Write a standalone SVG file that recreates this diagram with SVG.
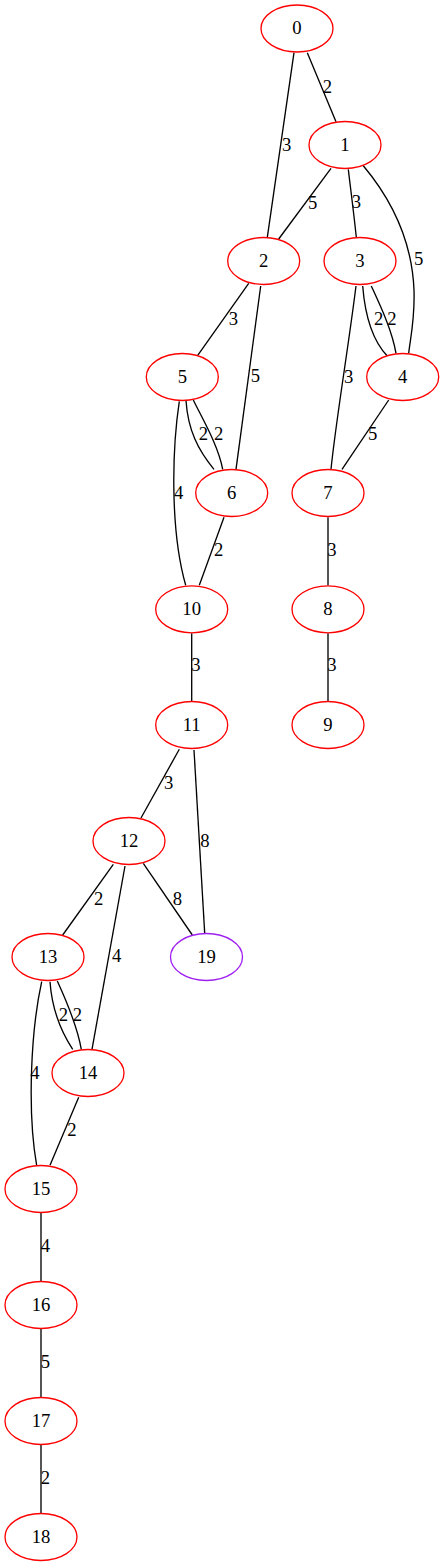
<svg xmlns="http://www.w3.org/2000/svg" width="444" height="1567" viewBox="0 0 444 1567">
<style>
.n ellipse{fill:none;stroke:#ff0000;stroke-width:1.33}
.n.p ellipse{stroke:#a020f0}
text{font-family:"Liberation Serif","Times New Roman",serif;font-size:18.67px;fill:#000;text-anchor:middle}
#edges path{fill:none;stroke:#000;stroke-width:1.33}
</style>
<rect width="444" height="1567" fill="#fff"/>
<g id="edges">
<path d="M307.3,52.7 L336,121.7"/><text x="327.3" y="93">2</text>
<path d="M294,52.7 L267.3,237.3"/><text x="286.7" y="150.5">3</text>
<path d="M331,168.3 L278.7,239"/><text x="312.7" y="208.5">5</text>
<path d="M348.3,169.3 C351,192 354,215 356.3,237.3"/><text x="356.3" y="208">3</text>
<path d="M363.3,165.7 C392,200 412,240 414,290 C415,320 410,340 408.7,353.3"/><text x="418.7" y="265">5</text>
<path d="M248.7,283.3 L197.7,355.3"/><text x="233.3" y="324.5">3</text>
<path d="M260.7,286 L236,469.3"/><text x="255.3" y="382">5</text>
<path d="M362.7,286 C365,315 372,340 387.3,356"/><text x="378.7" y="325">2</text>
<path d="M371.3,286 C380,305 392,330 396,353.3"/><text x="392" y="325">2</text>
<path d="M356,286 C348,350 336,420 331,469.3"/><text x="348.7" y="382.5">3</text>
<path d="M388.7,400 L342,469.3"/><text x="372.7" y="440">5</text>
<path d="M186,400.7 C188,430 198,450 214,469.3"/><text x="203.3" y="440">2</text>
<path d="M193.3,400 C203,420 218,445 222.7,469.3"/><text x="218.7" y="440">2</text>
<path d="M179.3,401.3 C172,450 170,530 185.7,585.3"/><text x="178.7" y="499">4</text>
<path d="M224,517.3 L199.3,585.3"/><text x="218.7" y="556">2</text>
<path d="M328,517.3 L328,585.3"/><text x="332" y="556">3</text>
<path d="M191.7,633.3 L191.7,701"/><text x="196" y="671">3</text>
<path d="M328,633.3 L328,701"/><text x="332" y="671">3</text>
<path d="M179.3,749.3 L141,818"/><text x="168.7" y="788.5">3</text>
<path d="M194,750 C197,810 201,870 204.7,933.3"/><text x="205" y="846.5">8</text>
<path d="M113.3,864.3 L62.7,935"/><text x="98.7" y="904.5">2</text>
<path d="M125,866 L92,1049.3"/><text x="116.7" y="962">4</text>
<path d="M143.3,863.3 L192.3,935"/><text x="177.3" y="904.5">8</text>
<path d="M50,981.7 C52,1010 60,1030 72.7,1049.3"/><text x="63.3" y="1021">2</text>
<path d="M57.3,981 C66,1000 77,1025 81.3,1049.3"/><text x="77.3" y="1021">2</text>
<path d="M41.7,981.7 C31,1030 27,1110 36.7,1165.7"/><text x="35" y="1079">4</text>
<path d="M78.7,1097.3 L50,1165.3"/><text x="72" y="1136">2</text>
<path d="M41,1213 L41,1281"/><text x="45.3" y="1252">4</text>
<path d="M41,1329 L41,1397"/><text x="45.3" y="1368">5</text>
<path d="M41,1445 L41,1513"/><text x="45.3" y="1484">2</text>
</g>
<g id="node0" class="n"><ellipse cx="297" cy="28.5" rx="36" ry="23.5"/><text x="297" y="34.3">0</text></g>
<g id="node1" class="n"><ellipse cx="345" cy="145" rx="36" ry="23.5"/><text x="345" y="150.7">1</text></g>
<g id="node2" class="n"><ellipse cx="263.7" cy="261" rx="36" ry="23.5"/><text x="263.7" y="266.7">2</text></g>
<g id="node3" class="n"><ellipse cx="360" cy="261" rx="36" ry="23.5"/><text x="360" y="266.7">3</text></g>
<g id="node4" class="n"><ellipse cx="402.7" cy="377" rx="36" ry="23.5"/><text x="402.7" y="382.7">4</text></g>
<g id="node5" class="n"><ellipse cx="182.3" cy="377" rx="36" ry="23.5"/><text x="182.3" y="382.7">5</text></g>
<g id="node6" class="n"><ellipse cx="231.7" cy="493" rx="36" ry="23.5"/><text x="231.7" y="498.7">6</text></g>
<g id="node7" class="n"><ellipse cx="328" cy="493" rx="36" ry="23.5"/><text x="328" y="498.7">7</text></g>
<g id="node8" class="n"><ellipse cx="328" cy="609.3" rx="36" ry="23.5"/><text x="328" y="615">8</text></g>
<g id="node9" class="n"><ellipse cx="328" cy="725" rx="36" ry="23.5"/><text x="328" y="730.7">9</text></g>
<g id="node10" class="n"><ellipse cx="191.7" cy="609.3" rx="36" ry="23.5"/><text x="191.7" y="615">10</text></g>
<g id="node11" class="n"><ellipse cx="191.7" cy="725" rx="36" ry="23.5"/><text x="191.7" y="730.7">11</text></g>
<g id="node12" class="n"><ellipse cx="129" cy="841" rx="36" ry="23.5"/><text x="129" y="846.7">12</text></g>
<g id="node13" class="n"><ellipse cx="48" cy="957" rx="36" ry="23.5"/><text x="48" y="962.7">13</text></g>
<g id="node19" class="n p"><ellipse cx="206.5" cy="957" rx="36" ry="23.5"/><text x="206.5" y="962.7">19</text></g>
<g id="node14" class="n"><ellipse cx="88" cy="1073" rx="36" ry="23.5"/><text x="88" y="1078.7">14</text></g>
<g id="node15" class="n"><ellipse cx="41" cy="1189" rx="36" ry="23.5"/><text x="41" y="1194.7">15</text></g>
<g id="node16" class="n"><ellipse cx="41" cy="1305" rx="36" ry="23.5"/><text x="41" y="1310.7">16</text></g>
<g id="node17" class="n"><ellipse cx="41" cy="1421" rx="36" ry="23.5"/><text x="41" y="1426.7">17</text></g>
<g id="node18" class="n"><ellipse cx="41" cy="1537" rx="36" ry="23.5"/><text x="41" y="1542.7">18</text></g>
</svg>
